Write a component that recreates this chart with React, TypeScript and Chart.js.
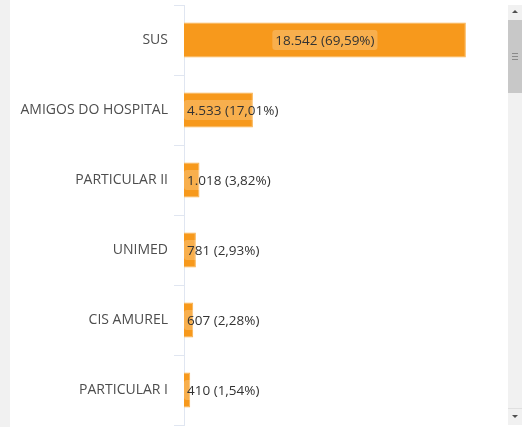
import React, { useEffect, useRef } from "react";
import { Chart, registerables } from "chart.js";

Chart.register(...registerables);

const categories = ["SUS", "AMIGOS DO HOSPITAL", "PARTICULAR II", "UNIMED", "CIS AMUREL", "PARTICULAR I"];
const values = [18542, 4533, 1018, 781, 607, 410];
const percents = ["69,59%", "17,01%", "3,82%", "2,93%", "2,28%", "1,54%"];
const xMax = 20000;

const FONT = "'Open Sans', 'Noto Sans', sans-serif";

function fmt(n: number): string {
  return String(n).replace(/\B(?=(\d{3})+(?!\d))/g, ".");
}

function roundRect(ctx: CanvasRenderingContext2D, x: number, y: number, w: number, h: number, r: number) {
  ctx.beginPath();
  ctx.moveTo(x + r, y);
  ctx.lineTo(x + w - r, y);
  ctx.quadraticCurveTo(x + w, y, x + w, y + r);
  ctx.lineTo(x + w, y + h - r);
  ctx.quadraticCurveTo(x + w, y + h, x + w - r, y + h);
  ctx.lineTo(x + r, y + h);
  ctx.quadraticCurveTo(x, y + h, x, y + h - r);
  ctx.lineTo(x, y + r);
  ctx.quadraticCurveTo(x, y, x + r, y);
  ctx.closePath();
}

const labelPlugin = {
  id: "valueLabels",
  afterDatasetsDraw(chart: any) {
    const ctx: CanvasRenderingContext2D = chart.ctx;
    const meta = chart.getDatasetMeta(0);
    ctx.save();
    ctx.font = `13.5px ${FONT}`;
    ctx.textBaseline = "middle";
    ctx.textAlign = "left";
    meta.data.forEach((bar: any, i: number) => {
      const text = fmt(values[i]) + " (" + percents[i] + ")";
      const p = bar.getProps(["x", "y", "base"], true);
      const w = ctx.measureText(text).width;
      const padX = 3;
      const boxH = 20;
      const barW = p.x - p.base;
      let boxX: number;
      if (w + 2 * padX < barW) boxX = p.base + barW / 2 - (w + 2 * padX) / 2;
      else boxX = p.base;
      ctx.fillStyle = "rgba(255,255,255,0.22)";
      roundRect(ctx, boxX, p.y - boxH / 2, w + 2 * padX, boxH, 3);
      ctx.fill();
      ctx.fillStyle = "#333333";
      ctx.fillText(text, boxX + padX, p.y + 1);
    });
    ctx.restore();
  },
};

export default function App() {
  const canvasRef = useRef<HTMLCanvasElement | null>(null);

  useEffect(() => {
    if (!canvasRef.current) return;
    const chart = new Chart(canvasRef.current, {
      type: "bar",
      data: {
        labels: categories,
        datasets: [
          {
            data: values,
            backgroundColor: "#F7991C",
            borderColor: "#F9B04A",
            borderWidth: 1,
            barPercentage: 0.5,
            categoryPercentage: 1,
          },
        ],
      },
      options: {
        indexAxis: "y",
        animation: false,
        responsive: true,
        maintainAspectRatio: false,
        layout: { padding: { top: 5, bottom: 2, right: 20, left: 0 } },
        plugins: {
          legend: { display: false },
          tooltip: { enabled: false },
        },
        scales: {
          x: { display: false, min: 0, max: xMax },
          y: {
            afterFit: (scale: any) => {
              scale.width = 174;
              scale.paddingTop = 0;
              scale.paddingBottom = 0;
            },
            grid: {
              display: true,
              drawOnChartArea: false,
              drawTicks: true,
              tickLength: 10,
              color: "#E0E6F1",
              offset: true,
            },
            border: { display: true, color: "#E0E6F1" },
            ticks: {
              color: "#4d4d4d",
              font: { family: FONT, size: 14 },
              padding: 6,
            },
          },
        },
      },
      plugins: [labelPlugin],
    } as any);
    return () => chart.destroy();
  }, []);

  return (
    <div style={{ position: "fixed", inset: 0, background: "#ffffff", overflow: "hidden" }}>
      <div style={{ position: "absolute", left: 0, top: 0, width: 10, height: 427, background: "#f1f1f1" }} />
      <div style={{ position: "absolute", left: 10, top: 0, width: 498, height: 427 }}>
        <canvas ref={canvasRef} />
      </div>
      {/* scrollbar */}
      <div style={{ position: "absolute", left: 508, top: 5, width: 14, height: 419, background: "#f1f1f1" }}>
        <div style={{ position: "absolute", left: 0, top: 0, width: 14, height: 15, background: "#f1f1f1" }}>
          <div style={{ position: "absolute", left: 4, top: 5, width: 0, height: 0, borderLeft: "3px solid transparent", borderRight: "3px solid transparent", borderBottom: "3px solid #505050" }} />
        </div>
        <div style={{ position: "absolute", left: 0, top: 15, width: 14, height: 73, background: "#c8c8c8" }}>
          <div style={{ position: "absolute", left: 4, top: 33, width: 6, height: 1, background: "#8a8a8a" }} />
          <div style={{ position: "absolute", left: 4, top: 36, width: 6, height: 1, background: "#8a8a8a" }} />
          <div style={{ position: "absolute", left: 4, top: 39, width: 6, height: 1, background: "#8a8a8a" }} />
        </div>
        <div style={{ position: "absolute", left: 0, top: 403, width: 14, height: 16, background: "#f1f1f1", borderTop: "1px solid #e0e0e0" }}>
          <div style={{ position: "absolute", left: 4, top: 6, width: 0, height: 0, borderLeft: "3px solid transparent", borderRight: "3px solid transparent", borderTop: "3px solid #505050" }} />
        </div>
      </div>
    </div>
  );
}
